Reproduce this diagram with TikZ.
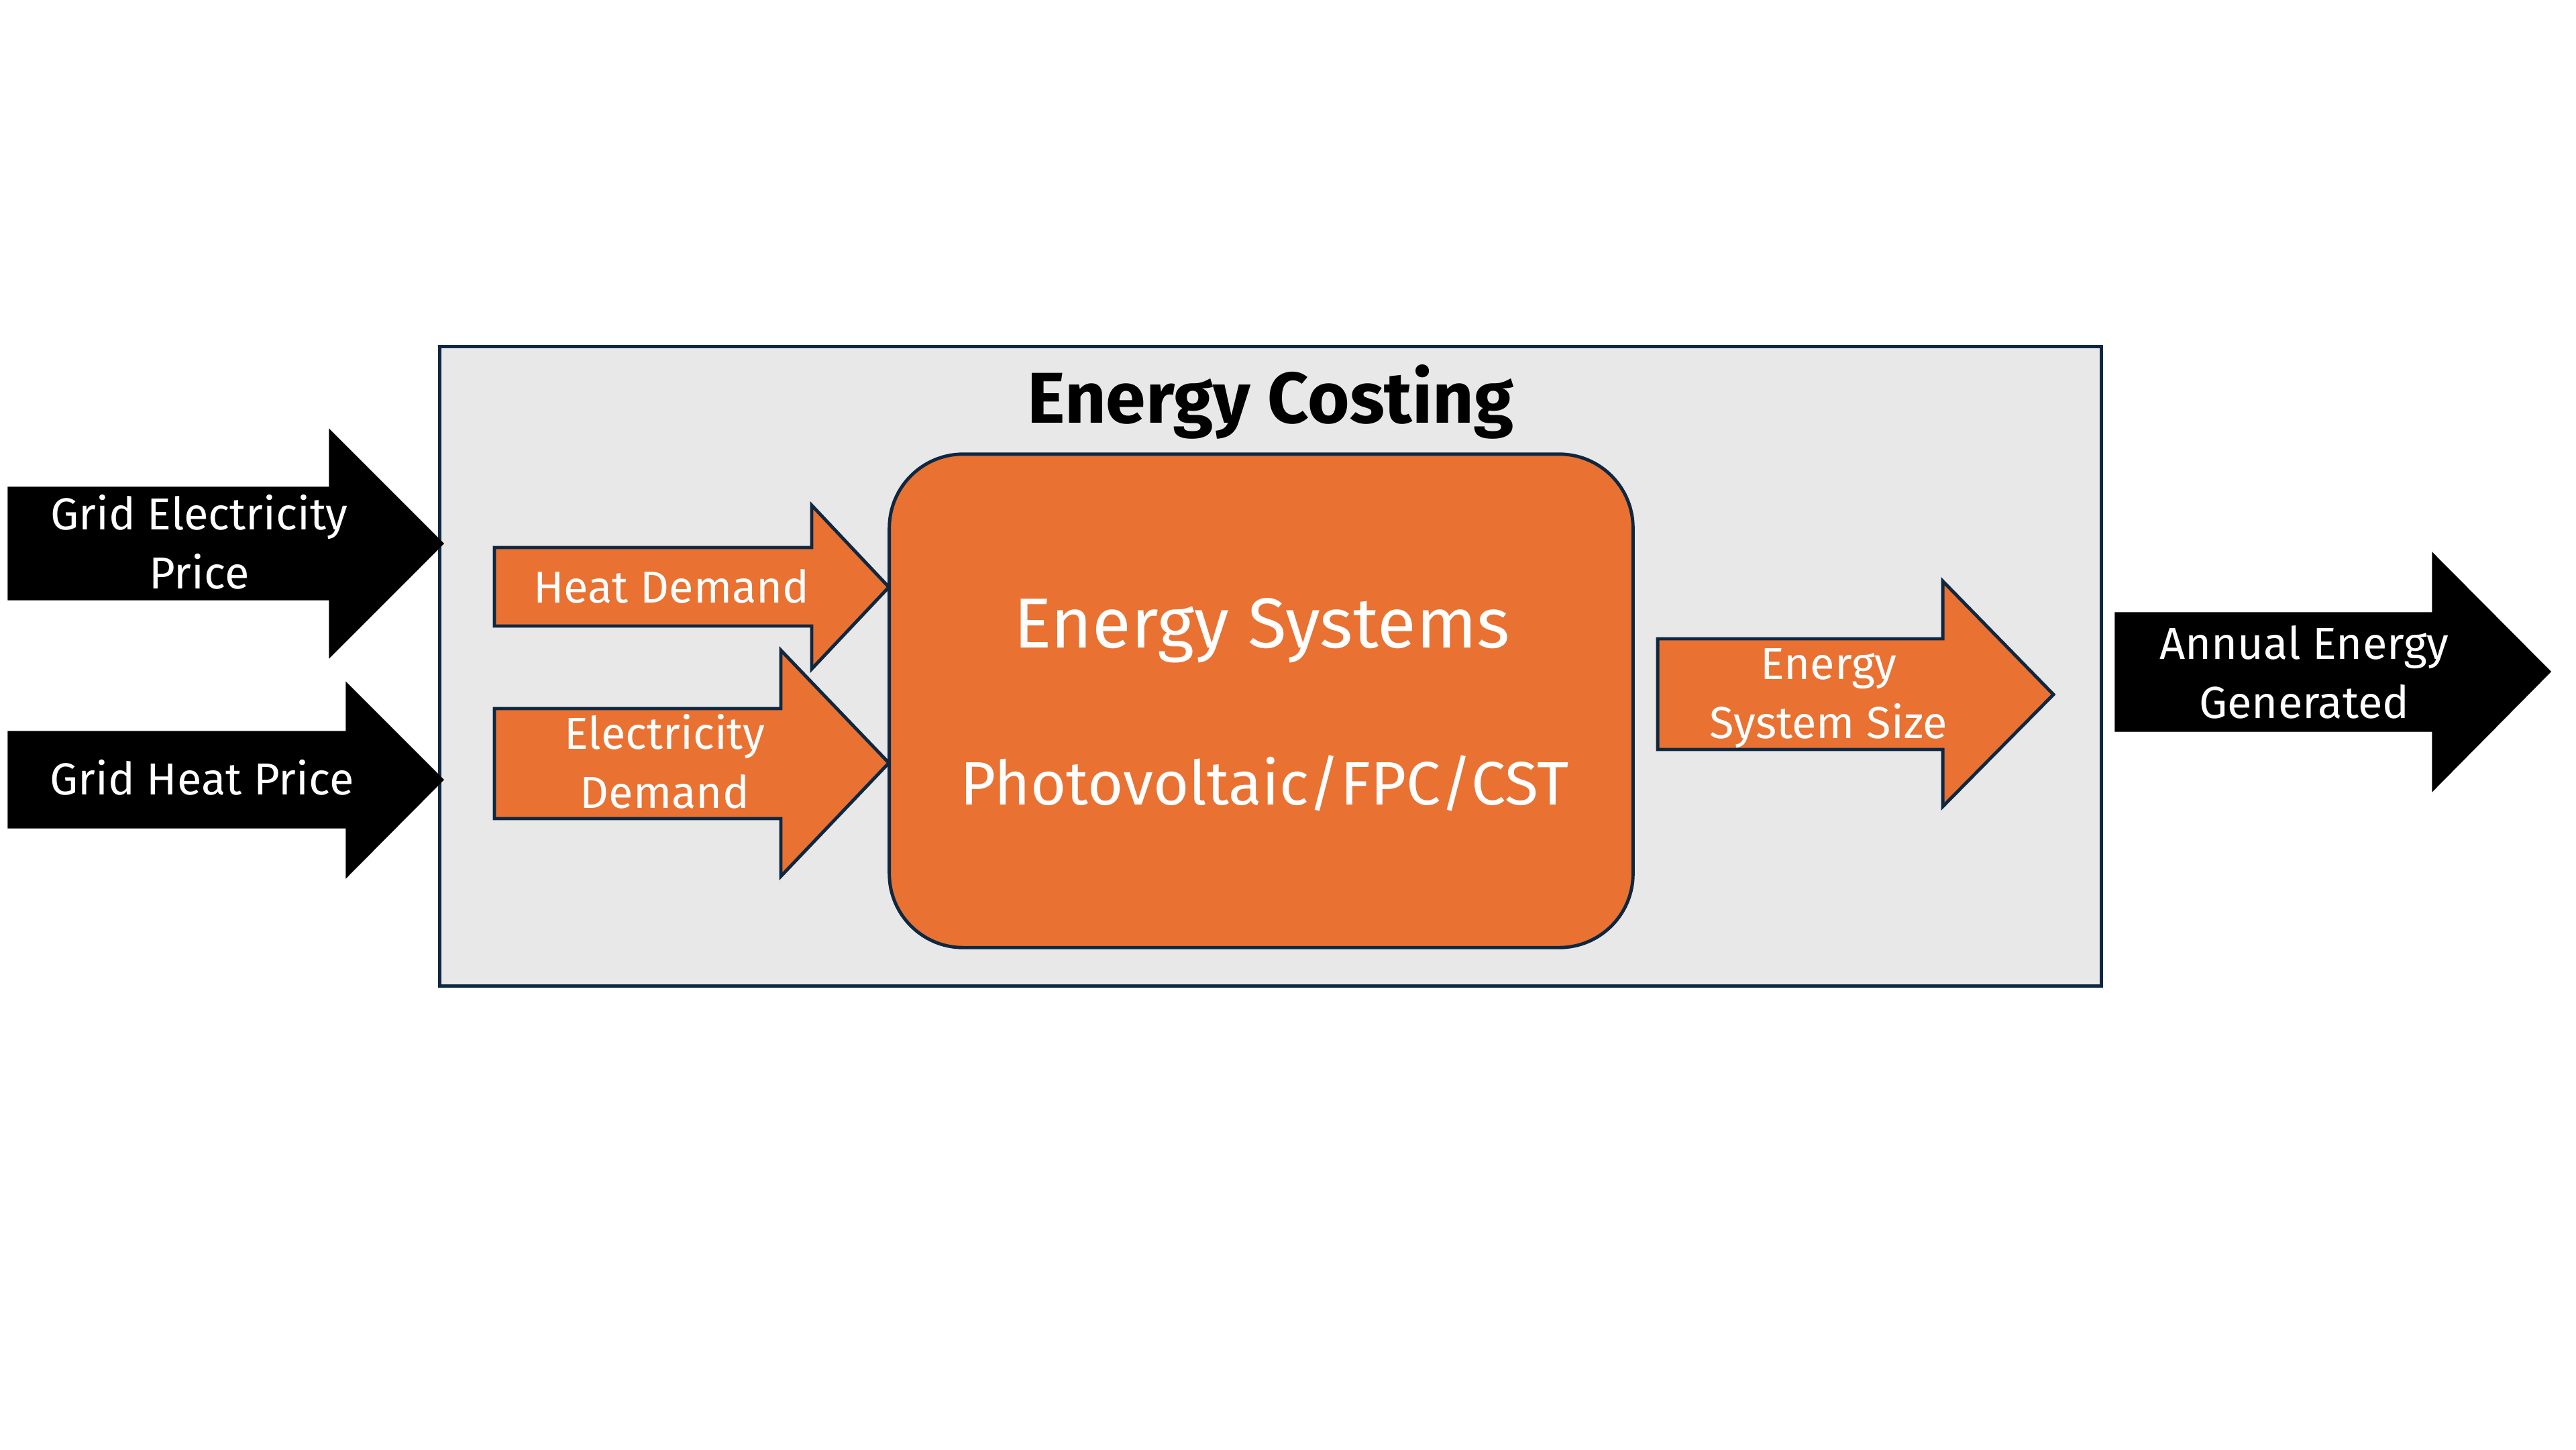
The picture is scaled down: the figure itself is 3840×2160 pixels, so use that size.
\documentclass[tikz,border=0pt]{standalone}
\usepackage{fontspec}
\setmainfont{Fira Sans}
\usetikzlibrary{positioning}
\definecolor{esorange}{HTML}{E97132}
\definecolor{esnavy}{HTML}{0E2841}
\definecolor{esgray}{HTML}{E8E8E8}
\tikzstyle{outarrow} = [fill=black, draw=black, line width=0.4pt, line join=miter]
\tikzstyle{inarrow} = [fill=esorange, draw=esnavy, line width=1.4pt, line join=miter]
\tikzstyle{lbl} = [text=white, align=center, inner sep=0pt, anchor=base, font=\fontsize{19}{24.9}\selectfont]

\begin{document}
\begin{tikzpicture}[x=0.01cm, y=-0.01cm]
\useasboundingbox (0,0) rectangle (3840,2160);

% outer frame and core block
\node[draw=esnavy, fill=esgray, line width=1.4pt, minimum width=24.76cm, minimum height=9.52cm, inner sep=0pt] (costing) at (1894,993) {};
\node[font=\bfseries\fontsize{30.5}{36}\selectfont, anchor=base, inner sep=0pt] (title) at (1894,630) {Energy Costing};
\node[draw=esnavy, fill=esorange, line width=1.4pt, rounded corners=1.1cm, minimum width=11.08cm, minimum height=7.35cm, inner sep=0pt] (systems) at (1880,1044.5) {};
\node[text=white, anchor=base, inner sep=0pt, font=\fontsize{30}{36}\selectfont] (sysname) at (1881,965) {Energy Systems};
\node[text=white, anchor=base, inner sep=0pt, font=\fontsize{26}{30}\selectfont] (systype) at (1885,1199) {Photovoltaic/FPC/CST};

% grid prices
\filldraw[outarrow] (12,726) -- (491,726) -- (491,640) -- (661,810) -- (491,980) -- (491,894) -- (12,894) -- cycle;
\node[lbl] (gridelec) at (297,877) {Grid Electricity\\Price};
\filldraw[outarrow] (12,1090) -- (516,1090) -- (516,1017) -- (661,1162) -- (516,1308) -- (516,1234) -- (12,1234) -- cycle;
\node[lbl] (gridheat) at (301,1184) {Grid Heat Price};

% demands
\filldraw[inarrow] (737,816) -- (1210,816) -- (1210,753) -- (1325,875) -- (1210,997) -- (1210,933) -- (737,933) -- cycle;
\node[lbl] (heat) at (1001,898) {Heat Demand};
\filldraw[inarrow] (737,1056) -- (1164,1056) -- (1164,969) -- (1325,1137) -- (1164,1306) -- (1164,1220) -- (737,1220) -- cycle;
\node[lbl] (elec) at (991,1204) {Electricity\\Demand};

% outputs
\filldraw[inarrow] (2471,952) -- (2896,952) -- (2896,866) -- (3061,1035) -- (2896,1202) -- (2896,1117) -- (2471,1117) -- cycle;
\node[lbl] (size) at (2726,1100) {Energy\\System Size};
\filldraw[outarrow] (3153,913) -- (3626,913) -- (3626,824) -- (3802,1001) -- (3626,1179) -- (3626,1090) -- (3153,1090) -- cycle;
\node[lbl] (annual) at (3435,1070) {Annual Energy\\Generated};

\end{tikzpicture}
\end{document}
